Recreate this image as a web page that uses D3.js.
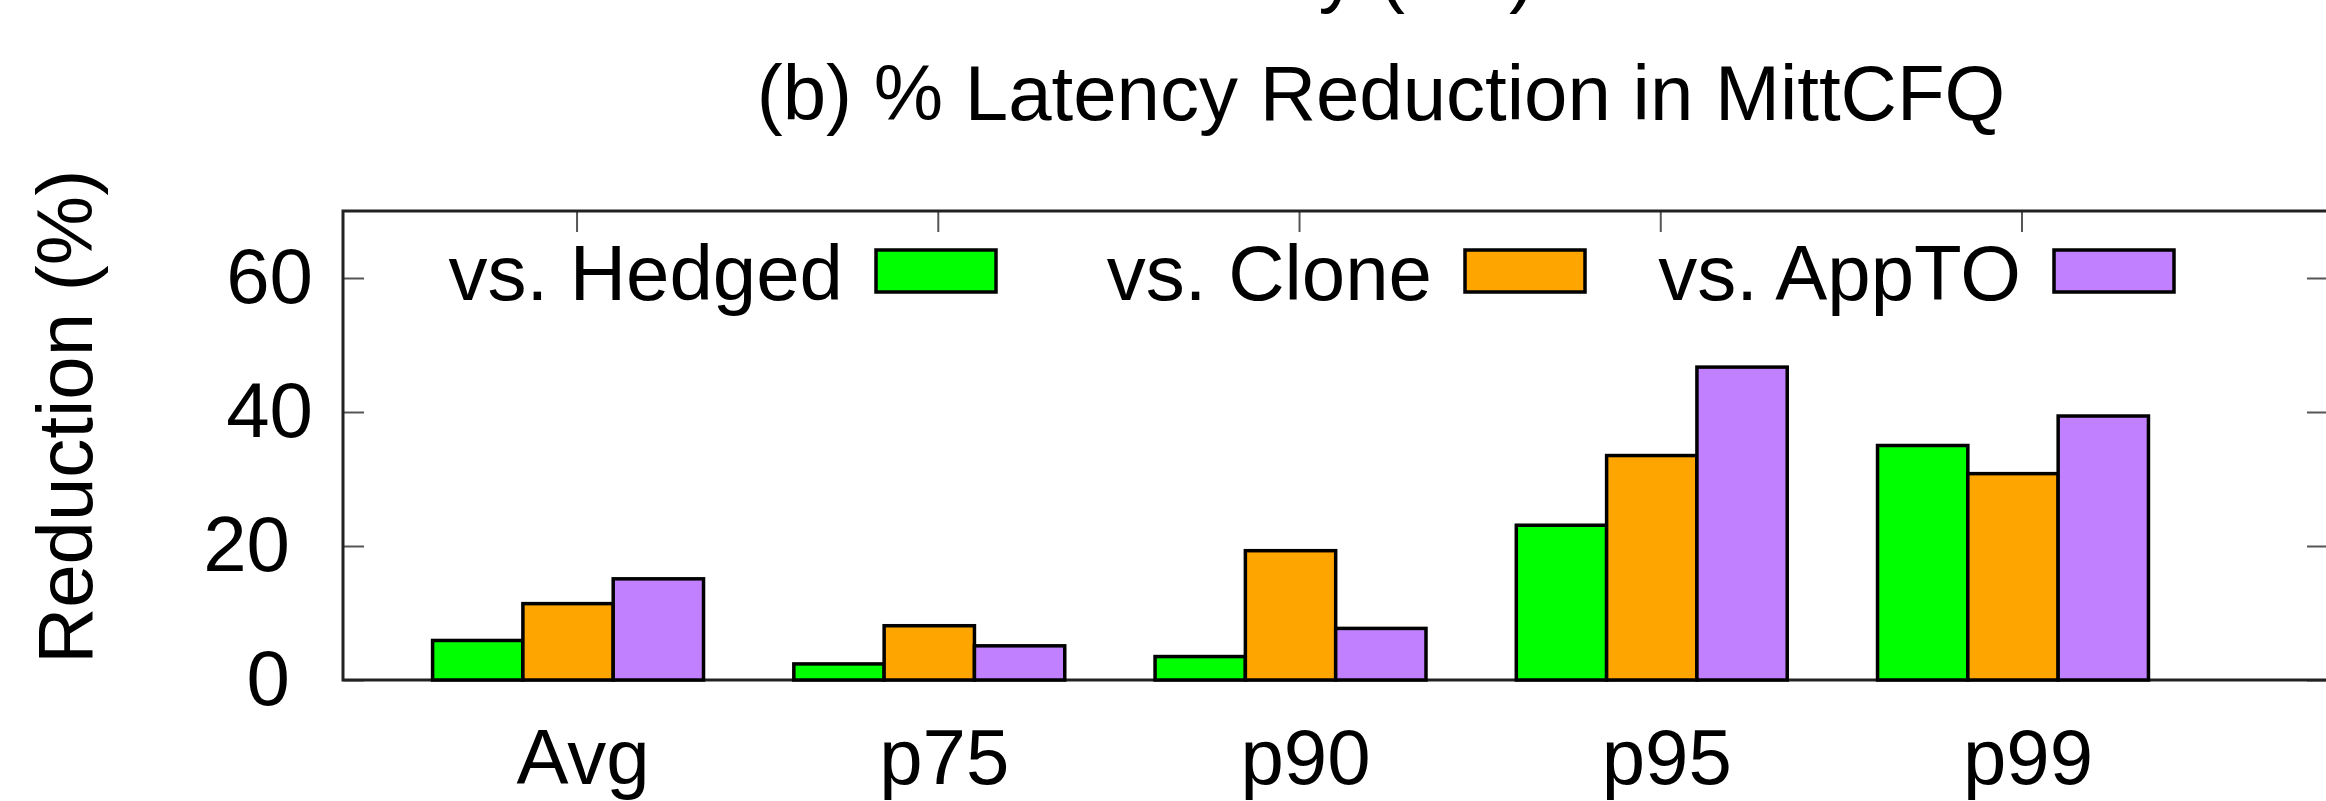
<!DOCTYPE html>
<html>
<head>
<meta charset="utf-8">
<script src="https://cdn.jsdelivr.net/npm/d3@7"></script>
<style>
    body { margin: 0; background: #fff; }
    text { font-family: "Liberation Sans", Arial, Helvetica, sans-serif; fill: #000; }
</style>
</head>
<body>
<script>
// chart data
var categories = ["Avg", "p75", "p90", "p95", "p99"];
var seriesNames = ["vs. Hedged", "vs. Clone", "vs. AppTO"];
var hedged = [5.9, 2.4, 3.5, 23.1, 35.0];
var clone = [11.4, 8.1, 19.3, 33.5, 30.8];
var appto = [15.1, 5.1, 7.7, 46.7, 39.4];
var yTicks = [0, 20, 40, 60];
var colors = ["#00ff00", "#ffa500", "#c080ff"];

window.onload = function() {
    var w = 2326, h = 801;
    var left = 343, right = 2328, top = 211, bottom = 680;
    var fontSize = 78;

    var svg = d3.select("body")
        .append("svg")
        .attr("width", w)
        .attr("height", h)
        .style("display", "block");

    var series = [hedged, clone, appto];

    // x is the cluster index, a bar is a quarter of a cluster
    var xScale = d3.scaleLinear()
        .domain([-0.623, 4.872])
        .range([left, right]);
    var yScale = d3.scaleLinear()
        .domain([0, 70])
        .range([bottom, top]);
    var barW = xScale(0.25) - xScale(0);

    // line of the plot above, cut off at the top
    svg.append("text")
        .attr("x", 1535)
        .attr("y", -2)
        .attr("text-anchor", "end")
        .style("font-size", fontSize + "px")
        .text("Latency (ms)");

    // title
    svg.append("text")
        .attr("x", 1381)
        .attr("y", 120)
        .attr("text-anchor", "middle")
        .style("font-size", fontSize + "px")
        .text("(b) % Latency Reduction in MittCFQ");

    // y axis label
    svg.append("text")
        .attr("transform", "translate(92," + 417 + ") rotate(-90)")
        .attr("text-anchor", "middle")
        .style("font-size", fontSize + "px")
        .text("Reduction (%)");

    // left axis, ticks pointing in
    var yAxis = svg.append("g")
        .attr("transform", "translate(" + left + ",0)")
        .call(d3.axisLeft(yScale).tickValues(yTicks)
            .tickSizeInner(-21).tickSizeOuter(0).tickPadding(30));
    yAxis.select(".domain").remove();
    yAxis.selectAll("line").attr("stroke", "#555").attr("stroke-width", 2);
    yAxis.selectAll("text")
        .attr("dx", function(d) { return d < 40 ? -23 : 0; })  // as in the original
        .style("font-family", '"Liberation Sans", Arial, sans-serif')
        .style("font-size", fontSize + "px")
        .attr("fill", "#000");

    // mirrored ticks on the right
    var yAxisR = svg.append("g")
        .attr("transform", "translate(" + right + ",0)")
        .call(d3.axisRight(yScale).tickValues(yTicks)
            .tickSizeInner(-21).tickSizeOuter(0).tickFormat(""));
    yAxisR.select(".domain").remove();
    yAxisR.selectAll("line").attr("stroke", "#555").attr("stroke-width", 2);

    // ticks on the top edge, one per category
    var topAxis = svg.append("g")
        .attr("transform", "translate(0," + top + ")")
        .call(d3.axisTop(xScale).tickValues(d3.range(categories.length))
            .tickSizeInner(-21).tickSizeOuter(0).tickFormat(""));
    topAxis.select(".domain").remove();
    topAxis.selectAll(".tick").attr("transform", function(d) {
        return "translate(" + (xScale(d) + 9) + ",0)";
    });
    topAxis.selectAll("line").attr("stroke", "#555").attr("stroke-width", 2);

    // category labels
    svg.selectAll(".catLabel")
        .data(categories)
        .enter()
        .append("text")
        .attr("class", "catLabel")
        .attr("x", function(d, i) { return xScale(i) + 15; })
        .attr("y", 784)
        .attr("text-anchor", "middle")
        .style("font-size", fontSize + "px")
        .text(function(d) { return d; });

    // frame
    svg.append("rect")
        .attr("x", left)
        .attr("y", top)
        .attr("width", right - left)
        .attr("height", bottom - top)
        .attr("fill", "none")
        .attr("stroke", "#222")
        .attr("stroke-width", 3);

    // bars
    series.forEach(function(vals, j) {
        svg.selectAll(".bar" + j)
            .data(vals)
            .enter()
            .append("rect")
            .attr("class", "bar" + j)
            .attr("x", function(d, i) { return xScale(i + (j - 1.5) * 0.25); })
            .attr("y", function(d) { return yScale(d); })
            .attr("width", barW)
            .attr("height", function(d) { return yScale(0) - yScale(d); })
            .attr("fill", colors[j])
            .attr("stroke", "#000")
            .attr("stroke-width", 3.5);
    });

    // legend, one row along the top
    var legend = svg.selectAll(".legend")
        .data(seriesNames)
        .enter()
        .append("g")
        .attr("class", "legend")
        .attr("transform", function(d, i) { return "translate(" + (876 + i * 589) + ",250)"; });
    legend.append("rect")
        .attr("width", 120)
        .attr("height", 42)
        .attr("fill", function(d, i) { return colors[i]; })
        .attr("stroke", "#000")
        .attr("stroke-width", 3.5);
    legend.append("text")
        .attr("x", -33)
        .attr("y", 50)
        .attr("text-anchor", "end")
        .style("font-size", fontSize + "px")
        .text(function(d) { return d; });
};
</script>
</body>
</html>
